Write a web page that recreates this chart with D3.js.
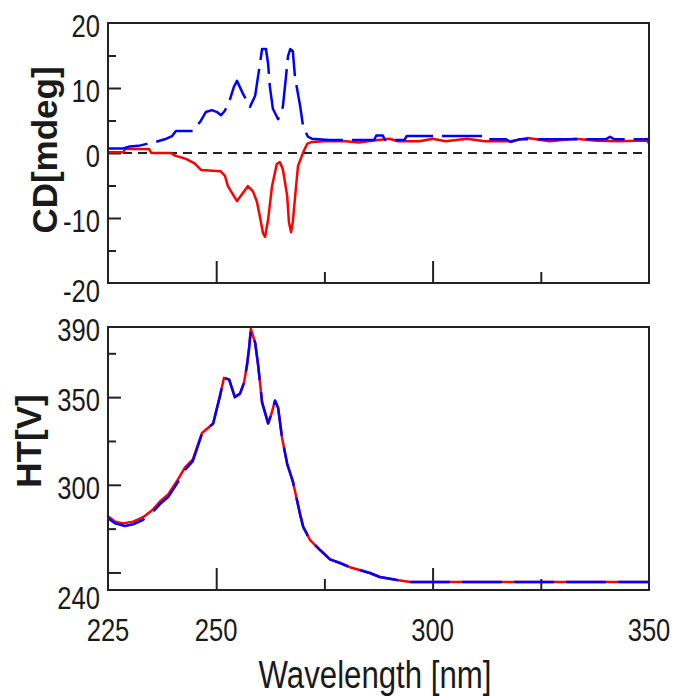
<!DOCTYPE html>
<html lang="en">
<head>
<meta charset="utf-8">
<title>CD / HT spectra</title>
<script src="https://d3js.org/d3.v7.min.js"></script>
<style>
body { margin: 0; background: #fff; }
text { font-family: "Liberation Sans", Arial, sans-serif; fill: #1a1a1a; }
.frame { fill: none; stroke: #222; stroke-width: 2px; }
.tick line { stroke: #222; stroke-width: 2px; }
.line { fill: none; stroke-width: 2.5px; stroke-linejoin: round; }
</style>
</head>
<body>
<svg width="673" height="696"></svg>
<script>

// wavelength axis
var nmTicksMajor = [250, 300]
var nmTicksMinor = [275, 325]
var nmLabels = [225, 250, 300, 350]

// CD panel
var cdTicksMajor = [-10, 0, 10]
var cdTicksMinor = [-15, -5, 5, 15]
var cdLabels = [-20, -10, 0, 10, 20]

// HT panel
var htTicksMajor = [250, 300, 350]
var htTicksMinor = [275, 325, 375]
var htLabels = [240, 300, 350, 390]

// [nm, mdeg]
var cdRed = [
  [225,0.1],[228.5,0.1],[229,0.6],[234.5,0.6],[235,0],[239.5,0],[240.5,-0.4],[243,-0.9],
  [245,-1.6],[246.5,-2.6],[251,-2.8],[252,-3.5],[252.7,-5.1],[254.8,-7.4],[256.0,-6.3],
  [257.3,-5.1],[258.5,-5.9],[259.4,-7.5],[260.1,-9.8],[260.8,-12.3],[261.3,-12.9],
  [262.0,-10.2],[262.9,-5.1],[264.0,-1.7],[264.7,-1.4],[265.4,-2.5],[266.4,-6.6],
  [266.8,-10.6],[267.3,-12.2],[267.7,-10.6],[268.4,-5.5],[268.9,-2.0],[270.1,0.1],
  [271.0,1.4],[272.1,1.7],[275,1.8],[280,1.8],[283,1.6],[285,1.8],[290,2.2],[292,1.8],
  [297,1.8],[300,2.2],[303,1.8],[308,2.2],[312,1.8],[318,1.8],[322,2.3],[327,1.8],
  [333,2.2],[338,1.9],[343,1.8],[347,1.9],[349.5,1.9],[350,1.5]
]

var cdBlue = [
  [225,0.7],[228.5,0.7],[230,1.0],[232,1.1],[234,1.4],[236,1.7],[238.5,2.2],[239.8,2.6],
  [240.7,3.4],[244.6,3.4],[246.3,4.8],[247.6,6.3],[249.0,6.6],[250.2,6.3],[251.1,5.8],
  [252.0,6.5],[253.2,8.3],[254.1,10.2],[254.8,11.1],[256.2,9.1],[257.8,7.1],[259.0,8.8],
  [260.1,13.7],[260.6,16.0],[261.5,16.0],[262.0,13.7],[262.4,10.2],[263.1,6.8],[264.3,5.2],
  [265.4,7.1],[265.9,10.3],[266.6,14.9],[267.1,16.0],[267.7,15.7],[268.2,11.7],[269.4,7.2],
  [270.1,4.0],[271.2,2.5],[272.1,2.2],[276,2.0],[286.5,2.0],[287,2.7],[288.5,2.7],[289,2.0],
  [293.5,2.0],[294,2.6],[312,2.6],[312.5,2.1],[317,2.1],[318,1.7],[320,2.1],[340,2.1],
  [341,2.5],[342,2.1],[350,2.1]
]

// [nm, V]
var htRed = [
  [225,282],[226.6,279],[228.5,278],[230.8,279],[233.1,281.5],[235.2,285.5],[237,290.5],
  [238.9,294.5],[240.9,302],[242.8,310],[244.6,314.5],[246.7,329.5],[247.9,332],[249.3,335],
  [250.9,351],[251.8,361],[253,360],[254.3,350],[255.5,352],[256.4,358],[257.1,368],
  [257.6,378],[258,389],[259,381],[259.7,368],[260.6,347],[262,335],[262.7,340],[263.6,348],
  [264.3,344],[265.2,327],[266.4,312],[267.7,302],[269.4,283],[270.1,276],[271.7,268.5],
  [274,262.8],[276.3,257.5],[278.6,255.4],[280.9,253],[285.5,249.7],[287.8,247.4],
  [291.8,245.7],[294.8,244.6],[350,244.6]
]

var htBlue = [
  [225,281],[226.6,278],[228.9,276.5],[230.8,277.5],[233.1,280],[235.2,284],[237,289],
  [238.9,293],[240.9,300.5],[242.8,308.5],[244.6,313.5],[246.7,329],[247.9,332],[249.3,335],
  [250.9,351],[251.8,361],[253,360],[254.3,350],[255.5,352],[256.4,358],[257.1,368],
  [257.6,378],[258,388],[259,381],[259.7,368],[260.6,347],[262,335],[262.7,340],[263.6,348],
  [264.3,344],[265.2,327],[266.4,312],[267.7,302],[269.4,283],[270.1,276],[271.7,268.5],
  [274,262.8],[276.3,257.5],[278.6,255.4],[280.9,253],[285.5,249.7],[287.8,247.4],
  [291.8,245.7],[294.8,244.6],[350,244.6]
]

var svg = d3.select("svg")

var left = 108, right = 649
var cdTop = 23, cdBottom = 283
var htTop = 327, htBottom = 590

var xScale = d3.scaleLinear().domain([225, 350]).range([left, right])
var yCD = d3.scaleLinear().domain([-20, 20]).range([cdBottom, cdTop])
var yHT = d3.scaleLinear().domain([240, 390]).range([htBottom, htTop])

var squeeze = 0.8

function label(x, y, txt, size, anchor) {
  return svg.append("text")
    .attr("transform", `translate(${x},${y}) scale(${squeeze},1)`)
    .attr("text-anchor", anchor)
    .attr("font-size", size)
    .text(txt)
}

function panel(yScale, top, bottom, major, minor, id, series, zeroLine) {
  svg.append("clipPath").attr("id", id)
    .append("rect")
    .attr("x", left).attr("y", top)
    .attr("width", right - left).attr("height", bottom - top)

  // ticks inside the frame
  var ax = svg.append("g").attr("transform", `translate(${left},0)`)
  ax.call(d3.axisLeft(yScale).tickValues(major).tickSize(-13).tickFormat(""))
  ax.select(".domain").remove()
  var ax2 = svg.append("g").attr("transform", `translate(${left},0)`)
  ax2.call(d3.axisLeft(yScale).tickValues(minor).tickSize(-8).tickFormat(""))
  ax2.select(".domain").remove()

  var bx = svg.append("g").attr("transform", `translate(0,${bottom})`)
  bx.call(d3.axisBottom(xScale).tickValues(nmTicksMajor).tickSize(-22).tickFormat(""))
  bx.select(".domain").remove()
  var bx2 = svg.append("g").attr("transform", `translate(0,${bottom})`)
  bx2.call(d3.axisBottom(xScale).tickValues(nmTicksMinor).tickSize(-11).tickFormat(""))
  bx2.select(".domain").remove()

  var plot = svg.append("g").attr("clip-path", `url(#${id})`)

  if (zeroLine) {
    plot.append("line")
      .attr("x1", left).attr("x2", right)
      .attr("y1", yScale(0)).attr("y2", yScale(0))
      .attr("stroke", "#222").attr("stroke-width", 2)
      .attr("stroke-dasharray", "9,6")
  }

  var line = d3.line()
    .x(d => xScale(d[0]))
    .y(d => yScale(d[1]))

  series.forEach(function(s) {
    plot.append("path")
      .datum(s.data)
      .attr("class", "line")
      .attr("stroke", s.color)
      .attr("stroke-dasharray", s.dash)
      .attr("d", line)
  })

  svg.append("rect").attr("class", "frame")
    .attr("x", left).attr("y", top)
    .attr("width", right - left).attr("height", bottom - top)
}

panel(yCD, cdTop, cdBottom, cdTicksMajor, cdTicksMinor, "clipCD", [
  {data: cdRed, color: "#ff0000", dash: null},
  {data: cdBlue, color: "#0000ff", dash: "40,9"}
], true)

panel(yHT, htTop, htBottom, htTicksMajor, htTicksMinor, "clipHT", [
  {data: htRed, color: "#ff0000", dash: null},
  {data: htBlue, color: "#0000ff", dash: "40,12"}
], false)

// tick labels
cdLabels.forEach(function(v) {
  var off = v === yCD.domain()[0] ? 8 : 3
  label(100, yCD(v) + off, String(v), 32, "end").attr("dy", "0.35em")
})
htLabels.forEach(function(v) {
  var off = v === yHT.domain()[0] ? 8 : 3
  label(100, yHT(v) + off, String(v), 32, "end").attr("dy", "0.35em")
})
nmLabels.forEach(function(v) {
  label(xScale(v), 641, String(v), 32, "middle")
})

// axis titles
svg.append("text")
  .attr("transform", "translate(57,150) rotate(-90)")
  .attr("text-anchor", "middle")
  .attr("font-size", 35)
  .attr("font-weight", "bold")
  .text("CD[mdeg]")

svg.append("text")
  .attr("transform", "translate(41,441) rotate(-90)")
  .attr("text-anchor", "middle")
  .attr("font-size", 35)
  .attr("font-weight", "bold")
  .text("HT[V]")

label(375, 688, "Wavelength [nm]", 39, "middle")

</script>
</body>
</html>
